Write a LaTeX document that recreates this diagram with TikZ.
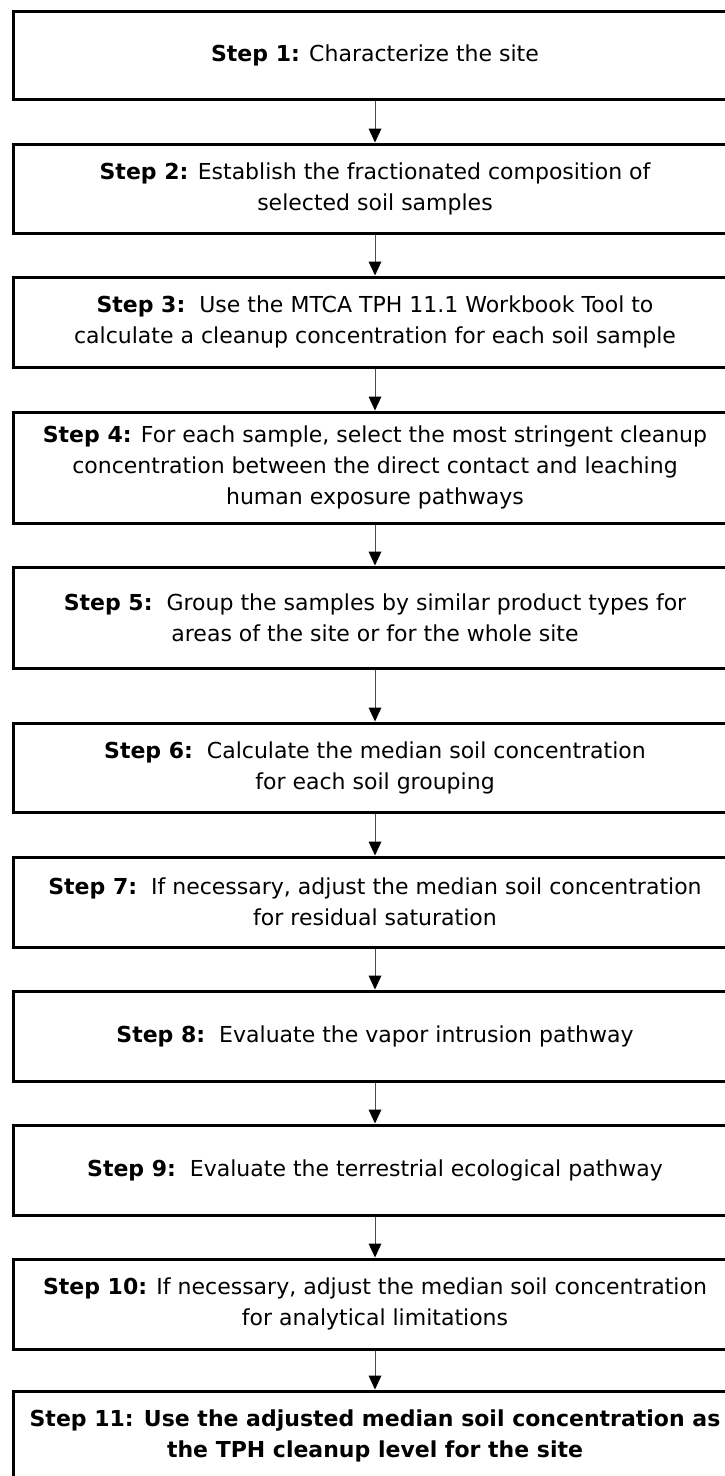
\documentclass[tikz,border=0pt]{standalone}
\usepackage{fontspec}
\setmainfont{DejaVu Sans}
\usetikzlibrary{arrows.meta}
\tikzset{
  stepbox/.style={draw=black, line width=3pt, fill=white, minimum width=724pt,
    align=center, inner sep=4pt, font=\fontsize{22}{31}\selectfont},
  flow/.style={draw=black!70, line width=1pt,
    -{Triangle[length=14pt,width=13pt,fill=black,line width=0pt]}}
}
\newcommand{\stp}[1]{\textbf{Step #1:}}
\begin{document}
\begin{tikzpicture}[x=1pt,y=-1pt]
  \useasboundingbox (0,0) rectangle (725,1476);
  \clip (0,0) rectangle (725,1476);
  \fill[white] (0,0) rectangle (725,1476);

  \node[stepbox, minimum height=88pt]  (s1)  at (375,55)   {\stp{1} Characterize the site};
  \node[stepbox, minimum height=89pt]  (s2)  at (375,188.5) {\stp{2} Establish the fractionated composition of\\ selected soil samples};
  \node[stepbox, minimum height=90pt]  (s3)  at (375,322)  {\stp{3}\ \ Use the MTCA TPH 11.1 Workbook Tool to\\ calculate a cleanup concentration for each soil sample};
  \node[stepbox, minimum height=111pt] (s4)  at (375,467.5) {\stp{4} For each sample, select the most stringent cleanup\\ concentration between the direct contact and leaching\\ human exposure pathways};
  \node[stepbox, minimum height=101pt] (s5)  at (375,617.5) {\stp{5}\ \ Group the samples by similar product types for\\ areas of the site or for the whole site};
  \node[stepbox, minimum height=89pt]  (s6)  at (375,767.5) {\stp{6}\ \ Calculate the median soil concentration\\ for each soil grouping};
  \node[stepbox, minimum height=90pt]  (s7)  at (375,902)  {\stp{7}\ \ If necessary, adjust the median soil concentration\\ for residual saturation};
  \node[stepbox, minimum height=90pt]  (s8)  at (375,1036) {\stp{8}\ \ Evaluate the vapor intrusion pathway};
  \node[stepbox, minimum height=90pt]  (s9)  at (375,1170) {\stp{9}\ \ Evaluate the terrestrial ecological pathway};
  \node[stepbox, minimum height=90pt]  (s10) at (375,1304) {\stp{10} If necessary, adjust the median soil concentration\\ for analytical limitations};
  \node[stepbox, minimum height=90pt]  (s11) at (375,1436) {\textbf{Step 11: Use the adjusted median soil concentration as}\\ \textbf{the TPH cleanup level for the site}};

  \foreach \a/\b in {s1/s2,s2/s3,s3/s4,s4/s5,s5/s6,s6/s7,s7/s8,s8/s9,s9/s10,s10/s11}
    \draw[flow] (\a.south) -- (\b.north);
\end{tikzpicture}
\end{document}
